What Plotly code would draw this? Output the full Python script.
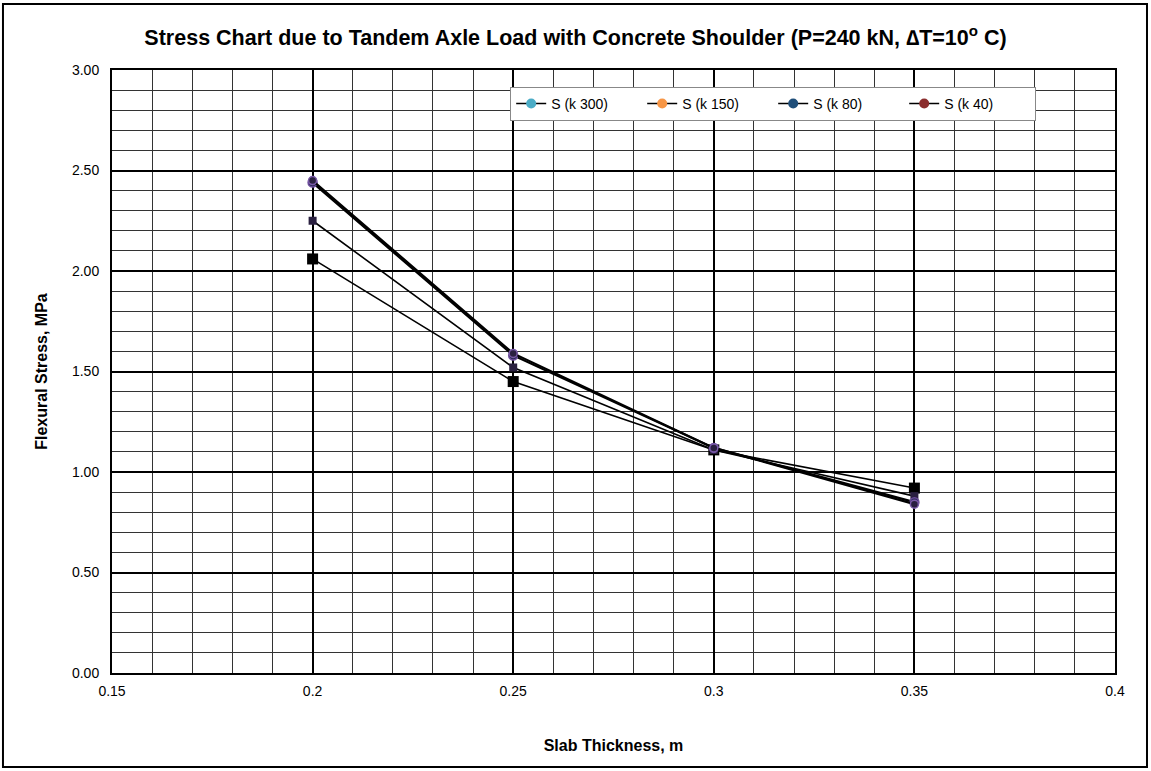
import plotly.graph_objects as go

thickness = [0.2, 0.25, 0.3, 0.35]
series_names = ["S (k 300)", "S (k 150)", "S (k 80)", "S (k 40)"]
s_k300 = [2.06, 1.45, 1.11, 0.92]
s_k150 = [2.25, 1.52, 1.11, 0.88]
s_k80 = [2.44, 1.58, 1.12, 0.85]
s_k40 = [2.45, 1.59, 1.12, 0.84]
legend_colors = ["#4BACC6", "#F79646", "#1F4E79", "#8B2E2E"]
x_ticks = [0.15, 0.2, 0.25, 0.3, 0.35, 0.4]
x_ticktext = ["0.15", "0.2", "0.25", "0.3", "0.35", "0.4"]

series_values = [s_k300, s_k150, s_k80, s_k40]
plot_markers = [
    dict(symbol="square", size=11, color="black"),
    dict(symbol="square", size=8, color="#2a2040"),
    dict(symbol="circle", size=9, color="#2a2a55", line=dict(color="#6a4a9a", width=1.5)),
    dict(symbol="circle", size=8, color="#2a2040", line=dict(color="#7a5aa8", width=1.5)),
]
line_widths = [1.6, 1.6, 2.2, 2.2]

fig = go.Figure()
for name, vals, mk, lw in zip(series_names, series_values, plot_markers, line_widths):
    fig.add_trace(go.Scatter(x=thickness, y=vals, mode="lines+markers", name=name,
                             line=dict(color="black", width=lw), marker=mk,
                             showlegend=False))
for name, col in zip(series_names, legend_colors):
    fig.add_trace(go.Scatter(x=[None], y=[None], mode="lines+markers", name=name,
                             line=dict(color="black", width=1.5),
                             marker=dict(symbol="circle", size=10, color=col)))

font_fam = "Liberation Sans Narrow, Arial Narrow, Liberation Sans, Arial, sans-serif"
fig.update_layout(
    width=1151, height=771,
    margin=dict(l=112, r=36, t=70, b=98, autoexpand=False),
    paper_bgcolor="white", plot_bgcolor="white",
    font=dict(family=font_fam, color="black", size=14),
    title=dict(text="<b>Stress Chart due to Tandem Axle Load with Concrete Shoulder (P=240 kN, ∆T=10<sup>o</sup> C)</b>",
               x=0.5, xanchor="center", y=0.951, yanchor="middle",
               font=dict(size=21.5, family=font_fam)),
    legend=dict(orientation="h", x=0.397, y=0.972, xanchor="left", yanchor="top",
                bgcolor="white", bordercolor="#888888", borderwidth=1,
                font=dict(size=14, family=font_fam), entrywidth=86,
                itemwidth=30, tracegroupgap=0),
    showlegend=True,
)
fig.update_xaxes(range=[0.15, 0.4], tickvals=x_ticks, ticktext=x_ticktext,
                 showgrid=True, gridcolor="black", gridwidth=2,
                 minor=dict(dtick=0.01, tick0=0.15, showgrid=True, gridcolor="#333333", gridwidth=1),
                 showline=True, linecolor="black", linewidth=2, mirror=True,
                 zeroline=False, ticks="", tickfont=dict(size=14), ticklabelstandoff=4,
                 title=dict(text="<b>Slab Thickness, m</b>", font=dict(size=16), standoff=42))
fig.update_yaxes(range=[0, 3], dtick=0.5, tickformat=".2f",
                 showgrid=True, gridcolor="black", gridwidth=2,
                 minor=dict(dtick=0.1, tick0=0, showgrid=True, gridcolor="#333333", gridwidth=1),
                 showline=True, linecolor="black", linewidth=2, mirror=True,
                 zeroline=False, ticks="", tickfont=dict(size=14), ticklabelstandoff=8,
                 title=dict(text="<b>Flexural Stress, MPa</b>", font=dict(size=16), standoff=20))
fig.add_shape(type="rect", xref="paper", yref="paper",
              x0=-0.1087, x1=1.0319, y0=-0.1559, y1=1.1095,
              line=dict(color="black", width=2), fillcolor="rgba(0,0,0,0)", layer="below")
fig.write_html("out.html", config={"displayModeBar": False},
               post_script="document.body.style.margin='0';document.body.style.overflow='hidden';")
